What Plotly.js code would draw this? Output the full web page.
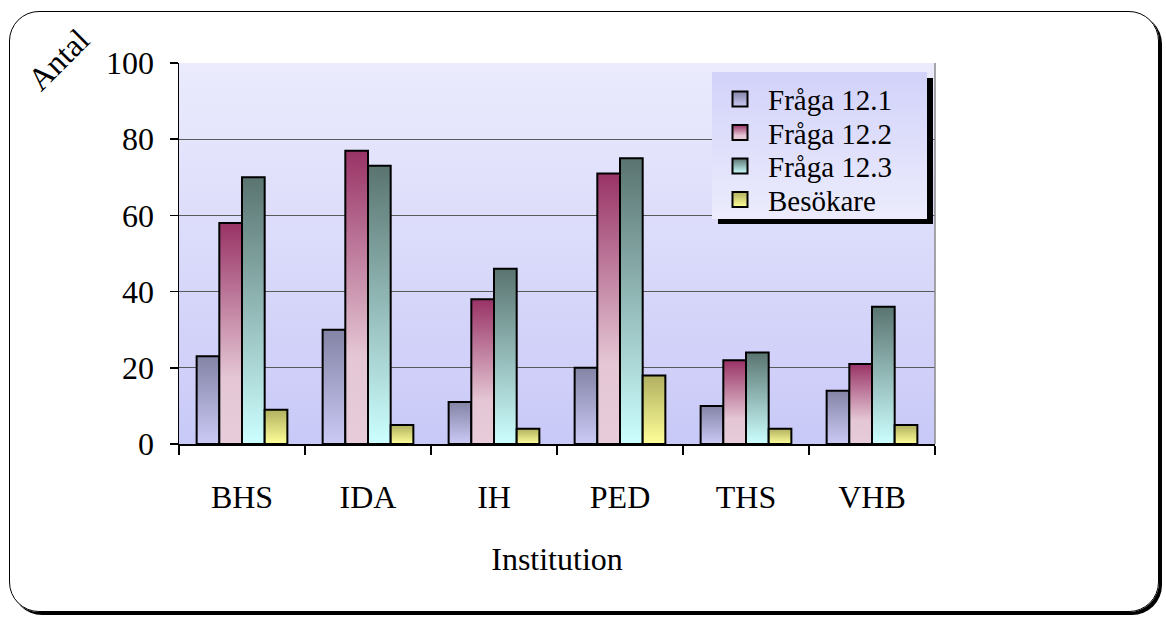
<!DOCTYPE html>
<html><head><meta charset="utf-8">
<script src="https://cdn.plot.ly/plotly-3.0.1.min.js"></script>
<style>
html,body{margin:0;padding:0;background:#fff;}
#frame{position:absolute;left:9px;top:11px;width:1148px;height:599px;border:1.5px solid #000;border-radius:30px;box-shadow:3px 3px 0 #000;}
#chart{position:absolute;left:0;top:0;width:1166px;height:617px;}
</style></head><body>
<div id="frame"></div><div id="chart"></div>
<script>
const categories = ['BHS','IDA','IH','PED','THS','VHB'];
const fraga121 = [23,30,11,20,10,14];
const fraga122 = [58,77,38,71,22,21];
const fraga123 = [70,73,46,75,24,36];
const besokare = [9,5,4,18,4,5];
const seriesNames = ['Fråga 12.1','Fråga 12.2','Fråga 12.3','Besökare'];
const yTicks = [0,20,40,60,80,100];

const baseColors = ['#a8a8d8','#c77a9c','#93c0bc','#dede80'];
const grads = [
  [['0%','#8484a6'],['100%','#cacaf6']],
  [['0%','#993366'],['70%','#e4c6d4'],['100%','#e8ccda']],
  [['0%','#5a7470'],['100%','#ccffff']],
  [['0%','#b0b060'],['100%','#ffff99']]
];
const serif = '"Liberation Serif","Times New Roman",serif';
const allVals = [fraga121,fraga122,fraga123,besokare];

const traces = allVals.map((v,i)=>({
  type:'bar', x:categories, y:v, name:seriesNames[i],
  marker:{color:baseColors[i], line:{color:'#000', width:2}}
}));

const L=179, R=935, T=63, B=444;
const W=1166, H=617;
const px = x => (x-L)/(R-L);
const py = y => (B-y)/(B-T);
const LEG_STEP = 33.5, LEG_H = 147;

const layout = {
  width:W, height:H,
  margin:{l:L, r:W-R, t:T, b:H-B, pad:0},
  paper_bgcolor:'rgba(0,0,0,0)',
  plot_bgcolor:'#d8d8fa',
  barmode:'group', bargap:0.28, bargroupgap:0,
  font:{family:serif, size:32, color:'#000'},
  showlegend:true,
  legend:{x:px(712), y:py(72), xanchor:'left', yanchor:'top',
    bgcolor:'#dedefa', borderwidth:0, font:{family:serif,size:29,color:'#000'},
    tracegroupgap:0, itemwidth:46},
  xaxis:{type:'category', showline:true, linecolor:'#000', linewidth:1.5,
    ticks:'outside', ticklen:9, tickcolor:'#000', tickwidth:1.5, tickson:'boundaries',
    showgrid:false, ticklabelstandoff:24, tickfont:{family:serif,size:32},
    title:{text:'Institution', font:{family:serif,size:32}, standoff:33}, fixedrange:true},
  yaxis:{range:[0,100], tickvals:yTicks, ticktext:yTicks.map(String),
    showline:true, linecolor:'#000', linewidth:1.5,
    ticks:'outside', ticklen:8, tickcolor:'#000', tickwidth:1.5,
    showgrid:true, gridcolor:'#5a5a5a', gridwidth:1, zeroline:false,
    ticklabelstandoff:9, tickfont:{family:serif,size:32}, fixedrange:true},
  shapes:[
    {type:'line', xref:'paper', yref:'paper', x0:1, x1:1, y0:0, y1:1, line:{color:'#8a8a8a', width:1.5}, layer:'above'},
    {type:'rect', xref:'paper', yref:'paper', x0:px(718), x1:px(933), y0:py(72+LEG_H+5), y1:py(78), fillcolor:'#000', line:{width:0}, layer:'above'}
  ],
  annotations:[
    {text:'Antal', xref:'paper', yref:'paper', x:px(58), y:py(60), showarrow:false, textangle:-45,
     font:{family:serif,size:32,color:'#000'}, xanchor:'center', yanchor:'middle'}
  ]
};

const gd = document.getElementById('chart');
Plotly.newPlot(gd, traces, layout, {staticPlot:true, displayModeBar:false}).then(()=>{
  const NS='http://www.w3.org/2000/svg';
  const svg = gd.querySelector('svg.main-svg');
  const defs = document.createElementNS(NS,'defs');
  function mk(id, stops){
    const g=document.createElementNS(NS,'linearGradient');
    g.setAttribute('id',id); g.setAttribute('x1','0'); g.setAttribute('y1','0'); g.setAttribute('x2','0'); g.setAttribute('y2','1');
    stops.forEach(s=>{const st=document.createElementNS(NS,'stop'); st.setAttribute('offset',s[0]); st.setAttribute('stop-color',s[1]); g.appendChild(st);});
    defs.appendChild(g);
  }
  grads.forEach((s,i)=>mk('barGrad'+i,s));
  mk('bgGrad',[['0%','#ebebfd'],['100%','#c9c9f8']]);
  mk('legGrad',[['0%','#d2d2fa'],['100%','#ececfd']]);
  svg.insertBefore(defs, svg.firstChild);
  gd.querySelectorAll('.barlayer .trace.bars').forEach((t,i)=>{
    t.querySelectorAll('.point path').forEach(p=>{p.style.fill='url(#barGrad'+i+')';});
  });
  const leg = gd.querySelector('.legend');
  if(leg){
    leg.querySelectorAll('.traces').forEach((t,i)=>{
      const m = /translate\(\s*([-\d.]+)[ ,]+([-\d.]+)\s*\)/.exec(t.getAttribute('transform')||'');
      const x0 = m ? parseFloat(m[1]) : 0;
      t.setAttribute('transform','translate('+x0+','+(27+i*LEG_STEP)+')');
      t.querySelectorAll('.legendpoints path').forEach(p=>{
        p.style.fill='url(#barGrad'+i+')';
        p.setAttribute('d','M7.5,7.5H-7.5V-7.5H7.5Z');
      });
    });
    const lb = leg.querySelector('rect.bg');
    if(lb){ lb.style.fill='url(#legGrad)'; lb.setAttribute('width','215'); lb.setAttribute('height',String(LEG_H)); }
  }
  const bg = gd.querySelector('.bglayer rect.bg');
  if(bg) bg.style.fill='url(#bgGrad)';
});
</script>
</body></html>
